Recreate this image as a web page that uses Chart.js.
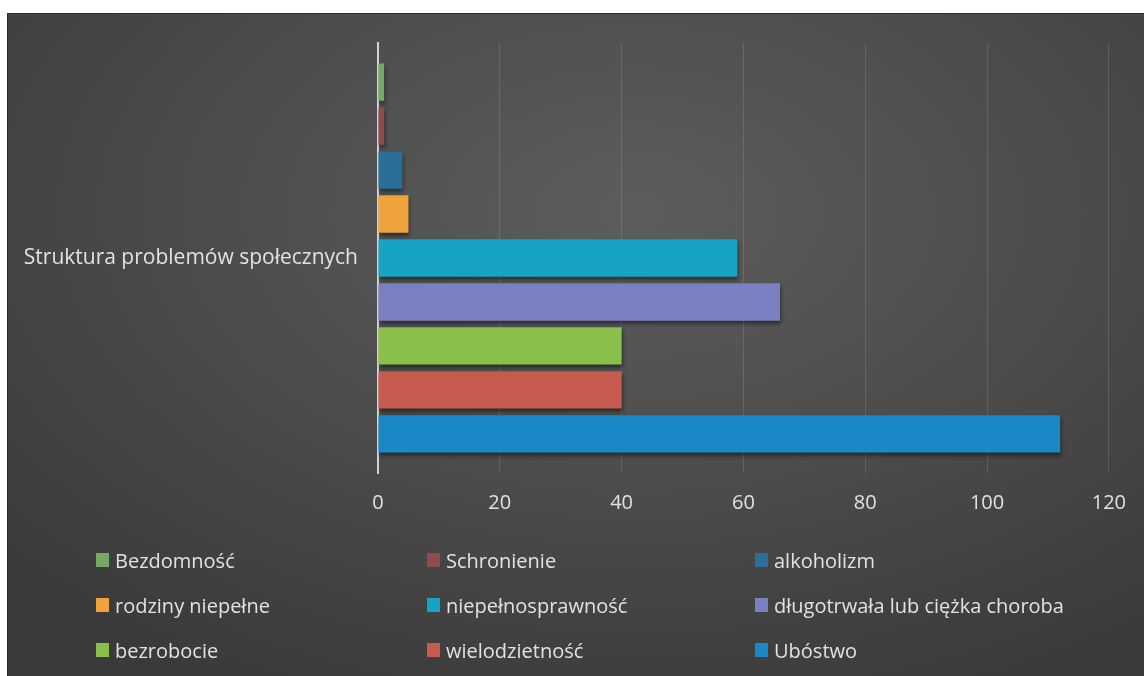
<!DOCTYPE html>
<html>
<head>
<meta charset="utf-8">
<script src="https://cdn.jsdelivr.net/npm/chart.js@4/dist/chart.umd.min.js"></script>
<style>
    html, body { margin: 0; padding: 0; background: #ffffff; }
    #wrap { position: relative; width: 1144px; height: 676px; overflow: hidden; }
    #panel {
        position: absolute; left: 7px; top: 13px; right: 0; bottom: 0;
        background: radial-gradient(ellipse 75% 80% at 55% 30%, #5d5d5d 0%, #4e4e4e 45%, #3a3a3a 100%);
        border-left: 1px solid #2a2a2a;
        border-top: 1px solid #2e2e2e;
    }
    #chartBox { position: absolute; left: 0; top: 0; width: 1144px; height: 676px; }
    #legend { position: absolute; left: 0; top: 0; width: 1144px; height: 676px; pointer-events: none; }
    .item {
        position: absolute; display: flex; align-items: center;
        font-family: 'Open Sans', sans-serif; font-size: 20px; color: #e2e2e2; white-space: nowrap;
    }
    .box { width: 13px; height: 14px; margin-right: 6px; }
</style>
</head>
<body>
<div id="wrap">
    <div id="panel"></div>
    <div id="chartBox"><canvas id="problemyChart"></canvas></div>
    <div id="legend"></div>
</div>
<script>
// Dane
const categories = ['Struktura problemów społecznych'];
const seriesNames = [
    'Bezdomność', 'Schronienie', 'alkoholizm',
    'rodziny niepełne', 'niepełnosprawność', 'długotrwała lub ciężka choroba',
    'bezrobocie', 'wielodzietność', 'Ubóstwo'
];
const seriesValues = [1, 1, 4, 5, 59, 66, 40, 40, 112];
const xTicks = [0, 20, 40, 60, 80, 100, 120];

// Kolory serii
const seriesColors = [
    '#74a865', '#8e4c4b', '#2a6f98',
    '#eea33c', '#17a3c4', '#7b80c3',
    '#8bbf4b', '#c75b4f', '#1a87c6'
];

const textColor = '#e2e2e2';
const font = { family: "'Open Sans', sans-serif", size: 20 };

// Cień pod słupkami
const barShadow = {
    id: 'barShadow',
    beforeDatasetsDraw(chart) {
        const ctx = chart.ctx;
        ctx.save();
        ctx.shadowColor = 'rgba(0,0,0,0.45)';
        ctx.shadowBlur = 4;
        ctx.shadowOffsetX = 1;
        ctx.shadowOffsetY = 3;
    },
    afterDatasetsDraw(chart) {
        chart.ctx.restore();
    }
};

const chart = new Chart(document.getElementById('problemyChart'), {
    type: 'bar',
    data: {
        labels: categories,
        datasets: seriesNames.map(function(name, i) {
            return {
                label: name,
                data: [seriesValues[i]],
                backgroundColor: seriesColors[i],
                borderWidth: 0,
                categoryPercentage: 0.92,
                barPercentage: 0.85
            };
        })
    },
    options: {
        indexAxis: 'y',
        responsive: true,
        maintainAspectRatio: false,
        animation: false,
        layout: {
            padding: { top: 43, right: 35, left: 0, bottom: 0 }
        },
        plugins: {
            legend: { display: false },
            tooltip: { enabled: false }
        },
        scales: {
            x: {
                min: xTicks[0],
                max: xTicks[xTicks.length - 1],
                afterBuildTicks: function(scale) {
                    scale.ticks = xTicks.map(function(v) { return { value: v }; });
                },
                afterFit: function(scale) {
                    scale.height = 203;
                },
                grid: {
                    color: 'rgba(255,255,255,0.12)',
                    lineWidth: 1,
                    drawTicks: false
                },
                border: { display: false },
                ticks: {
                    color: textColor,
                    font: font,
                    padding: 18
                }
            },
            y: {
                afterFit: function(scale) {
                    scale.width = 378;
                },
                grid: { display: false, drawTicks: false },
                border: { display: true, color: '#d2d2d2', width: 2 },
                ticks: {
                    color: textColor,
                    font: { family: font.family, size: 21 },
                    padding: 20
                }
            }
        }
    },
    plugins: [barShadow]
});

// Legenda w trzech kolumnach
const legendCols = [96, 427, 755];
const legendRows = [560, 605, 650];
const legendEl = document.getElementById('legend');
chart.data.datasets.forEach(function(ds, i) {
    const item = document.createElement('div');
    item.className = 'item';
    item.style.left = legendCols[i % 3] + 'px';
    item.style.top = (legendRows[Math.floor(i / 3)] - 14) + 'px';
    item.style.height = '28px';
    const box = document.createElement('span');
    box.className = 'box';
    box.style.background = ds.backgroundColor;
    const txt = document.createElement('span');
    txt.textContent = ds.label;
    item.appendChild(box);
    item.appendChild(txt);
    legendEl.appendChild(item);
});
</script>
</body>
</html>
